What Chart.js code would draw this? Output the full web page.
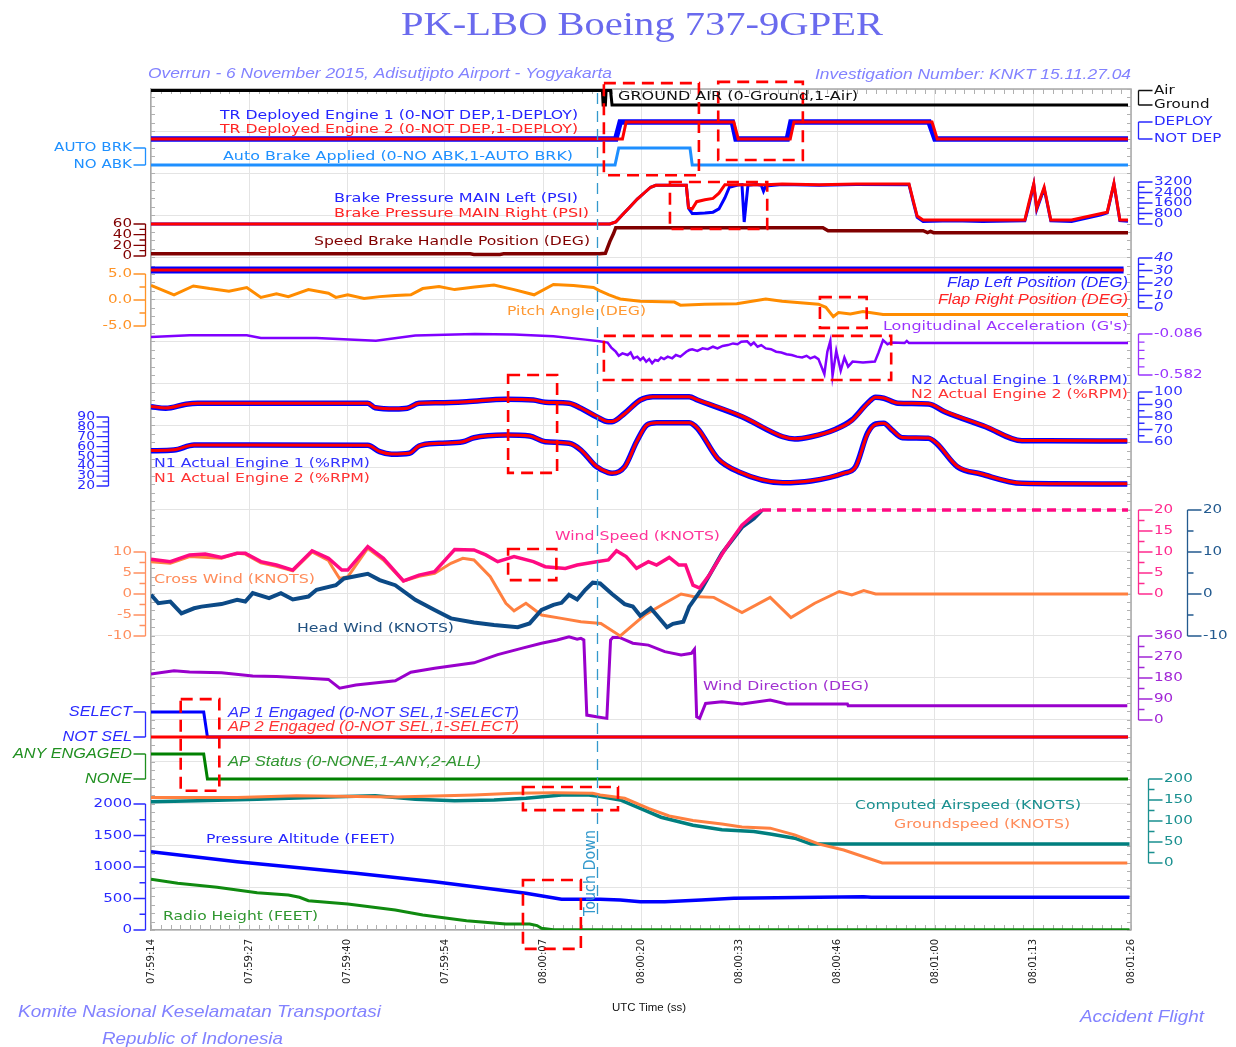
<!DOCTYPE html>
<html>
<head>
<meta charset="utf-8">
<title>PK-LBO Boeing 737-9GPER</title>
<script src="https://cdn.jsdelivr.net/npm/chart.js@4.4.1/dist/chart.umd.min.js"></script>
<style>
  html, body { margin: 0; padding: 0; background: #fff; }
  #box { width: 1236px; height: 1047px; }
</style>
</head>
<body>
<div id="box"><canvas id="fdr"></canvas></div>
<script>
// time is seconds after 07:59:14 UTC
const timeLabels = ['07:59:14', '07:59:27', '07:59:40', '07:59:54', '08:00:07', '08:00:20',
  '08:00:33', '08:00:46', '08:01:00', '08:01:13', '08:01:26'];
const touchDownT = 60.1;

const groundAirT = [0, 60.8, 60.9, 61.2, 61.3, 61.9, 62.1, 131.6];
const groundAir = [1, 1, 0, 0, 1, 1, 0, 0];

const trEng1T = [0, 62.6, 63.2, 78.3, 78.8, 85.7, 86.2, 104.8, 105.6, 131.6];
const trEng1 = [0, 0, 1, 1, 0, 0, 1, 1, 0, 0];
const trEng2T = [0, 63.5, 64.0, 78.5, 79.1, 86.1, 86.6, 105.2, 105.9, 131.6];
const trEng2 = [0, 0, 1, 1, 0, 0, 1, 1, 0, 0];

const autoBrkT = [0, 62.5, 63.0, 72.6, 72.9, 131.6];
const autoBrk = [0, 0, 1, 1, 0, 0];

const brakeT = [0, 61.8, 62.6, 63.5, 64.5, 65.5, 66.5, 67.3, 68.0, 72.1, 72.4, 72.9, 73.5, 74.6, 75.7, 76.5,
  77.3, 77.9, 78.9, 79.6, 79.9, 80.4, 81.5, 82.2, 82.5, 82.8, 85.0, 90.0, 95.0, 102.1, 102.7, 103.2, 104.0,
  108.0, 112.0, 117.7, 118.2, 118.9, 119.3, 120.3, 121.2, 124.0, 128.0, 128.8, 129.7, 130.5, 131.6];
const brakeLeft = [0, 0, 150, 700, 1300, 1900, 2400, 2800, 2950, 2950, 1200, 800, 800, 830, 900, 1150,
  2000, 2800, 2950, 3000, 150, 2950, 3000, 2950, 2500, 2900, 3000, 2950, 3000, 3000, 1600, 500, 200,
  250, 200, 250, 1300, 3000, 1100, 2700, 250, 200, 700, 850, 3050, 250, 200];
const brakeRight = [0, 0, 150, 700, 1300, 1900, 2400, 2800, 2950, 2950, 1250, 1150, 1700, 1850, 1950, 2350,
  3000, 3000, 3000, 3000, 3000, 3000, 3000, 3000, 3000, 3000, 3050, 3000, 3050, 3050, 1700, 600, 300,
  300, 300, 300, 1500, 3050, 1200, 2800, 300, 300, 800, 900, 3100, 300, 300];

const speedBrkT = [0, 43, 43.5, 47, 47.5, 60.4, 61.2, 61.8, 62.3, 62.6, 90.5, 91.2, 104.0, 104.6, 105.0, 105.4, 131.6];
const speedBrk = [4, 4, 3, 3, 4, 4, 5, 27, 42, 53, 53, 47.5, 47.5, 44, 46, 43.7, 43.7];

const flapT = [0, 131.0];
const flapLeft = [30.5, 30.5];
const flapRight = [30.5, 30.5];

const pitchT = [0, 3.1, 5.7, 7.9, 10.5, 12.9, 14.8, 16.9, 18.5, 21.2, 23.9, 24.9, 26.5, 28.7, 30.8, 32.9,
  35.0, 36.6, 38.8, 40.9, 43.6, 46.2, 48.9, 51.6, 54.2, 56.9, 59.6, 60.4, 61.7, 62.6, 63.2, 65.9, 70.5,
  71.3, 74.6, 78.9, 82.8, 85.0, 89.9, 90.9, 91.9, 92.6, 94.2, 95.9, 98.6, 131.6];
const pitch = [2.8, 1.0, 2.7, 2.2, 1.7, 2.4, 0.5, 1.2, 0.65, 2.0, 1.3, 0.5, 1.0, 0.3, 0.65, 0.85,
  1.0, 2.2, 2.6, 2.0, 2.5, 2.9, 2.0, 1.0, 3.0, 2.8, 2.4, 1.8, 1.0, 0.5, 0.2, -0.25, -0.4,
  -1.0, -0.8, -0.7, 0.2, -0.25, -0.8, -1.4, -3.2, -2.4, -2.7, -2.2, -2.8, -2.8];

const longAccT = [0, 5.2, 12.9, 14.8, 22.3, 30.3, 35.6, 43.6, 48.9, 54.2, 58.5, 60.4, 61.5, 62.0, 62.6,
  63.0, 63.5, 64.2, 64.6, 65.0, 65.5, 65.9, 66.3, 66.7, 67.1, 67.5, 67.9, 68.3, 68.7, 69.1, 69.6, 70.2,
  70.7, 71.3, 72.1, 72.5, 72.9, 73.6, 74.3, 75.0, 75.7, 76.3, 77.0, 77.7, 78.4, 79.0, 79.5, 80.3, 80.8,
  81.2, 81.7, 82.2, 82.8, 83.5, 84.2, 84.9, 85.6, 86.3, 87.0, 87.7, 88.3, 88.8, 89.4, 89.9, 90.7, 91.1,
  91.5, 91.8, 92.3, 92.9, 93.4, 93.9, 94.5, 95.9, 97.5, 98.0, 98.6, 99.2, 99.7, 101.5, 101.8, 102.1, 131.6];
const longAcc = [-0.121, -0.100, -0.100, -0.133, -0.133, -0.167, -0.105, -0.085, -0.092, -0.113, -0.154,
  -0.175, -0.19, -0.25, -0.30, -0.35, -0.32, -0.34, -0.31, -0.38, -0.36, -0.40, -0.37, -0.42, -0.39,
  -0.44, -0.40, -0.41, -0.37, -0.39, -0.36, -0.38, -0.34, -0.36, -0.30, -0.28, -0.27, -0.29, -0.26,
  -0.27, -0.24, -0.26, -0.23, -0.22, -0.20, -0.21, -0.18, -0.175, -0.22, -0.19, -0.24, -0.22, -0.26,
  -0.27, -0.30, -0.31, -0.33, -0.34, -0.36, -0.37, -0.35, -0.38, -0.36, -0.39, -0.57, -0.30, -0.17,
  -0.59, -0.29, -0.53, -0.37, -0.48, -0.42, -0.43, -0.42, -0.31, -0.16, -0.21, -0.19, -0.196, -0.17,
  -0.196, -0.196];

const n2T = [0, 2.0, 4.7, 6.3, 29.2, 30.2, 32.9, 34.5, 36.1, 38.8, 42.5, 47.8, 51.5, 53.1, 56.3, 57.9,
  60.0, 61.6, 62.1, 63.8, 65.9, 67.6, 72.5, 73.6, 79.6, 85.1, 86.7, 88.9, 92.2, 94.4, 96.5, 97.6, 98.7,
  100.6, 104.7, 106.9, 112.4, 117.3, 120.6, 131.5];
const n2Eng1 = [88.2, 87.0, 90.2, 91.0, 91.0, 87.4, 86.4, 87.0, 91.0, 91.4, 92.2, 94.2, 93.6, 91.8, 91.0, 87.0,
  80.2, 76.2, 76.2, 83.0, 93.6, 96.2, 96.2, 93.6, 80.2, 64.2, 62.4, 64.2, 70.2, 77.6, 91.0, 95.8, 95.0,
  91.0, 90.4, 84.2, 72.2, 61.0, 61.0, 60.8];
const n2Eng2 = [88.4, 87.2, 90.2, 91.0, 91.0, 87.6, 86.6, 87.0, 91.0, 91.4, 92.2, 94.2, 93.6, 91.8, 91.0, 87.2,
  80.6, 76.4, 76.4, 82.6, 93.4, 96.2, 96.2, 93.8, 80.6, 64.4, 62.6, 64.2, 70.0, 77.0, 90.6, 95.8, 95.2,
  91.2, 90.6, 84.6, 72.6, 61.2, 61.2, 61.0];

const n1T = [0, 3.1, 5.8, 7.3, 29.2, 30.8, 32.4, 34.8, 36.1, 38.8, 42.0, 43.5, 47.8, 51.0, 53.1, 56.3,
  57.9, 60.0, 61.6, 62.1, 63.8, 65.4, 66.8, 68.1, 72.5, 73.6, 76.3, 79.1, 85.1, 88.9, 93.3, 94.9, 96.5,
  97.6, 98.7, 99.8, 101.2, 104.7, 105.8, 108.6, 111.8, 117.3, 131.5];
const n1Eng1 = [55.8, 56.5, 61.6, 61.6, 61.3, 54.8, 52.2, 53.2, 60.6, 63.3, 64.9, 69.0, 71.7, 70.7, 64.9, 63.3,
  56.5, 39.6, 33.5, 32.9, 39.6, 64.9, 81.9, 84.2, 84.2, 78.5, 48.1, 34.5, 23.3, 25.1, 32.9, 39.6, 73.5,
  82.9, 83.6, 76.8, 69.0, 68.4, 63.3, 39.6, 32.2, 22.7, 22.0];
const n1Eng2 = [56.0, 56.7, 61.6, 61.6, 61.3, 55.0, 52.4, 53.2, 60.6, 63.3, 64.9, 69.0, 71.7, 70.7, 65.1, 63.3,
  56.7, 40.0, 33.7, 33.1, 39.2, 64.5, 81.9, 84.2, 84.2, 78.9, 48.5, 34.9, 23.5, 25.3, 32.9, 39.2, 72.5,
  82.5, 83.6, 77.2, 69.2, 68.6, 63.7, 40.0, 32.4, 22.9, 22.2];

const windSpeedT = [0, 2.6, 5.2, 7.3, 9.5, 11.6, 12.7, 14.8, 16.9, 19.1, 21.7, 23.9, 25.7, 26.5, 29.2, 31.3,
  34.0, 36.1, 38.2, 40.9, 43.5, 45.1, 46.7, 48.9, 51.5, 53.1, 55.8, 57.4, 60.0, 61.6, 62.7, 64.0, 65.4,
  67.0, 68.1, 69.8, 71.1, 72.0, 73.0, 73.9, 75.2, 77.4, 79.6, 81.2, 82.3, 131.6];
const windSpeed = [8.3, 7.7, 9.3, 9.5, 8.7, 9.7, 9.7, 7.7, 6.9, 5.7, 10.3, 8.5, 5.7, 5.7, 11.3, 8.5,
  3.1, 4.5, 5.3, 10.6, 10.5, 9.3, 7.7, 8.9, 7.7, 6.5, 6.1, 6.9, 7.7, 8.1, 10.3, 8.9, 6.1,
  7.7, 6.9, 8.7, 6.9, 6.9, 2.1, 1.4, 4.5, 10.9, 16.4, 18.8, 20, 20];

const crossWindT = [0, 2.6, 5.2, 9.5, 11.6, 12.7, 14.8, 16.9, 19.1, 21.7, 23.9, 24.4, 25.4, 26.5, 29.2, 31.3,
  34.0, 36.1, 38.2, 40.4, 42.0, 43.5, 45.7, 47.8, 48.9, 50.5, 52.6, 55.3, 57.9, 60.6, 63.2, 64.9, 66.5,
  69.2, 71.4, 73.0, 75.8, 79.6, 83.4, 86.2, 89.4, 92.7, 94.4, 96.0, 97.6, 131.6];
const crossWind = [7.7, 7.3, 8.9, 8.5, 9.7, 9.5, 7.4, 6.6, 5.5, 10.0, 8.0, 6.5, 3.7, 4.1, 10.9, 8.1,
  3.1, 4.2, 4.9, 7.3, 8.5, 8.1, 4.1, -2.2, -4.0, -2.2, -5.0, -5.8, -6.6, -7.0, -10, -7.4, -5.0,
  -2.2, 0, -0.6, -0.8, -4.4, -0.8, -5.6, -2.2, 0.6, -0.2, 0.8, 0, 0];

const headWindT = [0, 1.0, 2.6, 4.1, 5.8, 6.8, 9.5, 11.6, 12.7, 13.7, 15.9, 17.5, 19.1, 21.2, 22.3, 24.9,
  26.0, 29.2, 30.8, 32.9, 35.6, 38.2, 40.4, 43.5, 46.2, 49.4, 51.0, 52.6, 54.2, 55.3, 56.3, 57.4, 58.5,
  59.5, 60.5, 62.1, 63.8, 64.9, 65.9, 67.3, 68.1, 69.5, 70.3, 71.7, 72.5, 74.1, 76.9, 79.6, 81.2, 82.3];
const headWind = [-0.2, -2.2, -1.8, -4.6, -3.4, -3.0, -2.4, -1.4, -1.8, 0.2, -1.0, 0.2, -1.3, -0.6, 1.0, 2.1,
  3.7, 4.8, 3.3, 2.1, -1.4, -3.8, -5.8, -6.8, -7.4, -7.9, -7.0, -3.8, -2.6, -2.1, -0.2, -1.3, 1.0,
  2.7, 2.5, 0, -2.4, -3.0, -5.2, -3.4, -5.0, -7.9, -7.1, -6.6, -3.0, 1.0, 9.7, 15.9, 18.0, 20];

const windDirT = [0, 3.1, 5.2, 9.5, 13.7, 16.9, 21.2, 23.9, 25.4, 27.6, 32.9, 35.0, 38.2, 43.5, 46.7, 49.9,
  52.6, 54.7, 56.3, 57.4, 57.9, 58.3, 58.7, 60.0, 61.4, 61.9, 62.2, 63.1, 64.9, 67.0, 69.2, 71.4, 72.8,
  73.2, 73.5, 73.9, 74.7, 76.9, 79.6, 83.4, 85.6, 93.8, 93.9, 131.5];
const windDir = [197, 211, 206, 203, 189, 186, 179, 174, 136, 150, 168, 205, 222, 245, 280, 307,
  329, 343, 357, 346, 350, 343, 21, 14, 7, 343, 354, 354, 329, 321, 293, 279, 286,
  303, 14, 7, 71, 78, 69, 86, 69, 69, 61, 61];

const apT = [0, 7.1, 7.6, 131.6];
const ap1 = [1, 1, 0, 0];
const ap2 = [0, 0, 0, 0];
const apStatus = [1, 1, 0, 0];

const casT = [0, 6.3, 14.3, 24.9, 30.2, 35.6, 40.9, 46.2, 50.5, 55.3, 59.0, 60.5, 63.2, 65.9, 68.7, 73.0,
  76.9, 81.2, 83.4, 86.7, 88.9, 131.8];
const cas = [146, 148, 152, 158, 160, 152, 148, 150, 154, 162, 162, 158, 150, 130, 109, 90,
  79, 75, 69, 59, 45, 45];
const gsT = [0, 11.6, 19.6, 32.9, 43.5, 48.9, 54.2, 59.5, 60.5, 63.8, 67.0, 69.8, 73.0, 76.9, 79.6, 83.4,
  86.7, 90.0, 93.3, 98.5, 131.5];
const gs = [156, 156, 160, 157, 162, 166, 167, 166, 162, 154, 130, 112, 101, 93, 86, 83,
  67, 45, 31, 0, 0];

const altT = [0, 11.6, 27.6, 38.2, 50.5, 55.3, 60.5, 63.2, 65.9, 69.2, 74.1, 78.5, 90.0, 96.0, 97.0, 131.8];
const pressAlt = [1243, 1084, 900, 767, 582, 487, 487, 476, 450, 450, 476, 503, 519, 529, 519, 519];
const radioT = [0, 3.6, 8.9, 14.3, 18.5, 20.0, 21.2, 26.5, 32.9, 36.6, 42.5, 47.8, 51.0, 52.0, 52.6, 54.2, 131.8];
const radioHt = [805, 741, 678, 592, 556, 520, 465, 413, 317, 238, 148, 95, 95, 70, 27, 5, 5];

// highlight boxes: [t start, t end, grid row top, grid row bottom]
const redBoxes = [
  [61.0, 73.8, 20.14, 17.95], [76.4, 87.8, 20.17, 18.31], [69.9, 83.0, 17.79, 16.67],
  [90.1, 96.4, 15.05, 14.32], [61.0, 99.7, 14.13, 13.08], [48.1, 54.7, 13.20, 10.87],
  [48.1, 54.6, 9.06, 8.32], [4.0, 9.2, 5.49, 3.31], [50.1, 62.9, 3.40, 2.85], [50.1, 57.9, 1.19, -0.45]
];

// bracket axes drawn beside the plot
const brackets = [
  { axis: 'yGA', side: 1, x: 1138, ticks: [1, 0], labels: ['Air', 'Ground'], color: '#111' },
  { axis: 'yTR', side: 1, x: 1138, ticks: [1, 0], labels: ['DEPLOY', 'NOT DEP'], color: '#2a2aff' },
  { axis: 'yBrake', side: 1, x: 1138, ticks: [3200, 2400, 1600, 800, 0], minor: [400, 1200, 2000, 2800], color: '#2a2aff' },
  { axis: 'yFlap', side: 1, x: 1138, ticks: [40, 30, 20, 10, 0], minor: [35, 25, 15, 5], color: '#2a2aff', italic: true },
  { axis: 'yLong', side: 1, x: 1138, ticks: [-0.086, -0.582], labels: ['-0.086', '-0.582'], minor: [-0.185, -0.284, -0.384, -0.483], color: '#9933ff' },
  { axis: 'yN2', side: 1, x: 1138, ticks: [100, 90, 80, 70, 60], minor: [95, 85, 75, 65], color: '#3333ff' },
  { axis: 'yWind', side: 1, x: 1138, ticks: [20, 15, 10, 5, 0], minor: [17.5, 12.5, 7.5, 2.5], color: '#ff2b8f' },
  { axis: 'yWind', side: 1, x: 1187, ticks: [20, 10, 0, -10], minor: [15, 5, -5], color: '#235a8f' },
  { axis: 'yDir', side: 1, x: 1138, ticks: [360, 270, 180, 90, 0], minor: [315, 225, 135, 45], color: '#a126d6' },
  { axis: 'yCas', side: 1, x: 1148, ticks: [200, 150, 100, 50, 0], minor: [175, 125, 75, 25], color: '#1a9090' },
  { axis: 'yAB', side: -1, x: 145, ticks: [1, 0], labels: ['AUTO BRK', 'NO ABK'], color: '#1e90ff' },
  { axis: 'ySB', side: -1, x: 145, ticks: [60, 40, 20, 0], minor: [50, 30, 10], color: '#800000' },
  { axis: 'yPitch', side: -1, x: 145, ticks: [5, 0, -5], labels: ['5.0', '0.0', '-5.0'], minor: [2.5, -2.5], color: '#ff9326' },
  { axis: 'yN1', side: -1, x: 108, ticks: [90, 80, 70, 60, 50, 40, 30, 20], minor: [85, 75, 65, 55, 45, 35, 25], color: '#2a2aff', small: true },
  { axis: 'yWind', side: -1, x: 145, ticks: [10, 5, 0, -5, -10], minor: [7.5, 2.5, -2.5, -7.5], color: '#ff9060' },
  { axis: 'yAP', side: -1, x: 145, ticks: [1, 0], labels: ['SELECT', 'NOT SEL'], color: '#2a2aff', italic: true },
  { axis: 'yAPS', side: -1, x: 145, ticks: [1, 0], labels: ['ANY ENGAGED', 'NONE'], color: '#1f8f1f', italic: true },
  { axis: 'yAlt', side: -1, x: 145, ticks: [2000, 1500, 1000, 500, 0], minor: [1750, 1250, 750, 250], color: '#2a2aff' }
];

const FONTS = {
  s: '13px "DejaVu Sans"',
  i: 'italic 15px "Liberation Sans"',
  sub: 'italic 15px "Liberation Sans"',
  foot: 'italic 17px "Liberation Sans"',
  title: '33px "Liberation Serif"',
  small: '10px "Liberation Sans"'
};

// [text, left, right, centre y, colour, font]
const captions = [
  ['PK-LBO Boeing 737-9GPER', 401, 883, 26, '#6a6aee', 'title'],
  ['Overrun - 6 November 2015, Adisutjipto Airport - Yogyakarta', 148, 612, 74, '#8282ff', 'sub'],
  ['Investigation Number: KNKT 15.11.27.04', 815, 1131, 75, '#8282ff', 'sub'],
  ['GROUND AIR (0-Ground,1-Air)', 618, 858, 97, '#111', 's'],
  ['TR Deployed Engine 1 (0-NOT DEP,1-DEPLOY)', 220, 578, 116, '#2424ff', 's'],
  ['TR Deployed Engine 2 (0-NOT DEP,1-DEPLOY)', 220, 578, 130, '#ff2424', 's'],
  ['Auto Brake Applied (0-NO ABK,1-AUTO BRK)', 223, 573, 157, '#1e90ff', 's'],
  ['Brake Pressure MAIN Left (PSI)', 334, 578, 199, '#2424ff', 's'],
  ['Brake Pressure MAIN Right (PSI)', 334, 589, 214, '#ff2424', 's'],
  ['Speed Brake Handle Position (DEG)', 314, 590, 242, '#800000', 's'],
  ['Flap Left Position (DEG)', 947, 1128, 283, '#2424ff', 'i'],
  ['Flap Right Position (DEG)', 938, 1128, 300, '#ff2424', 'i'],
  ['Pitch Angle (DEG)', 507, 646, 312, '#ff9933', 's'],
  ["Longitudinal Acceleration (G's)", 883, 1128, 327, '#9933ff', 's'],
  ['N2 Actual Engine 1 (%RPM)', 911, 1128, 381, '#3333ff', 's'],
  ['N2 Actual Engine 2 (%RPM)', 911, 1128, 395, '#ff3333', 's'],
  ['N1 Actual Engine 1 (%RPM)', 154, 370, 464, '#3333ff', 's'],
  ['N1 Actual Engine 2 (%RPM)', 154, 370, 479, '#ff3333', 's'],
  ['Wind Speed (KNOTS)', 555, 720, 537, '#ff3399', 's'],
  ['Cross Wind (KNOTS)', 154, 315, 580, '#ff8c5a', 's'],
  ['Head Wind (KNOTS)', 297, 454, 629, '#1f5080', 's'],
  ['Wind Direction (DEG)', 703, 869, 687, '#a030d0', 's'],
  ['AP 1 Engaged (0-NOT SEL,1-SELECT)', 228, 519, 713, '#3333ff', 'i'],
  ['AP 2 Engaged (0-NOT SEL,1-SELECT)', 228, 519, 727, '#ff3333', 'i'],
  ['AP Status (0-NONE,1-ANY,2-ALL)', 228, 481, 762, '#2f962f', 'i'],
  ['Computed Airspeed (KNOTS)', 855, 1081, 806, '#1a9090', 's'],
  ['Groundspeed (KNOTS)', 894, 1070, 825, '#ff8c5a', 's'],
  ['Pressure Altitude (FEET)', 206, 395, 840, '#2424ff', 's'],
  ['Radio Height (FEET)', 163, 318, 917, '#2f962f', 's'],
  ['UTC Time (ss)', 612, 686, 1008, '#111', 'small'],
  ['Komite Nasional Keselamatan Transportasi', 18, 381, 1012, '#8282ff', 'foot'],
  ['Republic of Indonesia', 102, 283, 1039, '#8282ff', 'foot'],
  ['Accident Flight', 1080, 1204, 1017, '#8282ff', 'foot']
];

const TOP = 89, BOTTOM = 930, SPAN = BOTTOM - TOP;

// an invisible axis whose value v1 sits at pixel p1 and v2 at pixel p2
function band(v1, p1, v2, p2) {
  const k = (p1 - p2) / (v2 - v1);
  const min = v1 - (BOTTOM - p1) / k;
  return { type: 'linear', display: false, min: min, max: min + SPAN / k };
}

function series(t, v, axis, color, width, extra) {
  return Object.assign({
    data: t.map((x, i) => ({ x: x, y: v[i] })),
    yAxisID: axis,
    borderColor: color,
    borderWidth: width,
    pointRadius: 0,
    fill: false,
    tension: 0
  }, extra || {});
}

function fitText(ctx, s, x0, x1, y, color, font) {
  ctx.save();
  ctx.font = font;
  ctx.fillStyle = color;
  ctx.textAlign = 'left';
  ctx.textBaseline = 'middle';
  const w = ctx.measureText(s).width;
  ctx.translate(x0, y);
  ctx.scale((x1 - x0) / w, 1);
  ctx.fillText(s, 0, 0);
  ctx.restore();
}

function stretchText(ctx, s, x, y, color, font, align) {
  ctx.save();
  ctx.font = font;
  ctx.fillStyle = color;
  ctx.textAlign = align;
  ctx.textBaseline = 'middle';
  ctx.translate(x, y);
  ctx.scale(1.16, 1);
  ctx.fillText(s, 0, 0);
  ctx.restore();
}

const fdrOverlay = {
  id: 'fdrOverlay',
  beforeDatasetsDraw(chart) {
    const { ctx, chartArea: a, scales } = chart;
    ctx.save();
    ctx.strokeStyle = '#a8a8a8';
    ctx.lineWidth = 1.5;
    ctx.beginPath();
    ctx.moveTo(a.left, a.top);
    ctx.lineTo(a.right, a.top);
    ctx.lineTo(a.right, a.bottom);
    ctx.stroke();
    ctx.strokeStyle = '#b0b0b0';
    ctx.lineWidth = 1;
    ctx.beginPath();
    for (let r = 0; r <= 100; r++) {
      const y = Math.round(scales.yGrid.getPixelForValue(r / 5)) + 0.5;
      ctx.moveTo(a.left, y); ctx.lineTo(a.left + 4, y);
      ctx.moveTo(a.right, y); ctx.lineTo(a.right - 4, y);
    }
    for (let k = 0; k <= 100; k++) {
      const px = Math.round(scales.x.getPixelForValue(k * 1.32)) + 0.5;
      ctx.moveTo(px, a.bottom); ctx.lineTo(px, a.bottom - 5);
      ctx.moveTo(px, a.top); ctx.lineTo(px, a.top + 5);
    }
    ctx.stroke();
    ctx.restore();
  },
  afterDatasetsDraw(chart) {
    const { ctx, chartArea: a, scales } = chart;
    const xs = scales.x, g = scales.yGrid;
    ctx.save();

    // touch down marker
    const tx = Math.round(xs.getPixelForValue(touchDownT)) + 0.5;
    ctx.strokeStyle = '#3399cc';
    ctx.lineWidth = 1.3;
    ctx.setLineDash([11, 7]);
    ctx.beginPath();
    ctx.moveTo(tx, a.top + 4);
    ctx.lineTo(tx, a.bottom - 14);
    ctx.stroke();
    ctx.save();
    ctx.translate(tx - 7, 873);
    ctx.rotate(-Math.PI / 2);
    fitText(ctx, 'Touch Down', -43, 43, 0, '#3399cc', '16px "DejaVu Sans"');
    ctx.restore();

    // red highlight boxes
    ctx.strokeStyle = '#ff0000';
    ctx.lineWidth = 2.6;
    ctx.setLineDash([12, 7]);
    redBoxes.forEach(b => {
      const x0 = xs.getPixelForValue(b[0]), x1 = xs.getPixelForValue(b[1]);
      const y0 = g.getPixelForValue(b[2]), y1 = g.getPixelForValue(b[3]);
      ctx.strokeRect(x0, y0, x1 - x0, y1 - y0);
    });
    ctx.setLineDash([]);

    // bracket axes
    brackets.forEach(b => {
      const s = scales[b.axis];
      const x = b.x + 0.5;
      const len = b.side > 0 ? 14 : 12;
      const ys = b.ticks.map(v => s.getPixelForValue(v));
      ctx.strokeStyle = b.color;
      ctx.lineWidth = 1.3;
      ctx.beginPath();
      ctx.moveTo(x, ys[0]);
      ctx.lineTo(x, ys[ys.length - 1]);
      ys.forEach(y => { ctx.moveTo(x, y); ctx.lineTo(x + b.side * len, y); });
      (b.minor || []).forEach(v => {
        const y = s.getPixelForValue(v);
        ctx.moveTo(x, y); ctx.lineTo(x + b.side * 6, y);
      });
      ctx.stroke();
      const font = b.italic ? (b.labels ? 'italic 14px "Liberation Sans"' : 'italic 13px "DejaVu Sans"')
        : (b.small ? '12px "DejaVu Sans"' : '13px "DejaVu Sans"');
      ys.forEach((y, i) => {
        const label = b.labels ? b.labels[i] : String(b.ticks[i]);
        stretchText(ctx, label, x + b.side * (len + 1.5), y, b.color, font, b.side > 0 ? 'left' : 'right');
      });
    });

    captions.forEach(c => fitText(ctx, c[0], c[1], c[2], c[3], c[4], FONTS[c[5]]));
    ctx.restore();
  }
};

Chart.defaults.font.family = '"DejaVu Sans"';

const overRange = ctx => (ctx.p0.parsed.y >= 20 && ctx.p1.parsed.y >= 20) ? [9, 6] : undefined;

new Chart(document.getElementById('fdr'), {
  type: 'line',
  data: {
    datasets: [
      series(trEng2T, trEng2, 'yTR', '#ff0000', 3),
      series(trEng1T, trEng1, 'yTR', '#0000ff', 5.5),
      series(groundAirT, groundAir, 'yGA', '#000000', 3),
      series(autoBrkT, autoBrk, 'yAB', '#1e8fff', 3),
      series(brakeT, brakeRight, 'yBrake', '#ff0000', 3),
      series(brakeT, brakeLeft, 'yBrake', '#0000ff', 3),
      series(speedBrkT, speedBrk, 'ySB', '#800000', 3.5),
      series(flapT, flapRight, 'yFlap', '#ff0000', 3),
      series(flapT, flapLeft, 'yFlap', '#0000ff', 7),
      series(pitchT, pitch, 'yPitch', '#ff8c00', 3),
      series(longAccT, longAcc, 'yLong', '#8000ff', 2.5),
      series(n2T, n2Eng2, 'yN2', '#ff0000', 3, { cubicInterpolationMode: 'monotone' }),
      series(n2T, n2Eng1, 'yN2', '#0000ff', 5.5, { cubicInterpolationMode: 'monotone' }),
      series(n1T, n1Eng2, 'yN1', '#ff0000', 3, { cubicInterpolationMode: 'monotone' }),
      series(n1T, n1Eng1, 'yN1', '#0000ff', 5.5, { cubicInterpolationMode: 'monotone' }),
      series(windSpeedT, windSpeed, 'yWind', '#ff0a82', 3.5, { segment: { borderDash: overRange } }),
      series(headWindT, headWind, 'yWind', '#0c4a86', 4),
      series(crossWindT, crossWind, 'yWind', '#ff8040', 3),
      series(windDirT, windDir, 'yDir', '#9900cc', 3),
      series(apT, ap2, 'yAP', '#ff0000', 3),
      series(apT, ap1, 'yAP', '#0000ff', 3),
      series(apT, apStatus, 'yAPS', '#008000', 3),
      series(gsT, gs, 'yCas', '#ff8040', 3),
      series(casT, cas, 'yCas', '#007f7f', 3.5),
      series(altT, pressAlt, 'yAlt', '#0000ff', 3.5),
      series(radioT, radioHt, 'yAlt', '#108a10', 3)
    ]
  },
  options: {
    responsive: true,
    maintainAspectRatio: false,
    animation: false,
    events: [],
    layout: { padding: { left: 151, right: 105, top: 89, bottom: 57 } },
    plugins: { legend: { display: false }, tooltip: { enabled: false }, title: { display: false } },
    scales: {
      x: {
        type: 'linear',
        min: 0,
        max: 132,
        afterBuildTicks: s => { s.ticks = timeLabels.map((l, i) => ({ value: i * 13.2 })); },
        afterFit: s => { s.height = 60; },
        ticks: {
          autoSkip: false,
          minRotation: 90,
          maxRotation: 90,
          padding: 9,
          color: '#222',
          font: { size: 10, family: '"DejaVu Sans"' },
          callback: (v, i) => timeLabels[i]
        },
        grid: { color: '#e4e4e4', drawTicks: false },
        border: { color: '#a8a8a8', width: 1.5 }
      },
      yGrid: {
        type: 'linear',
        position: 'left',
        min: 0,
        max: 20,
        afterFit: s => { s.width = 0; },
        ticks: { display: false, stepSize: 1 },
        grid: { color: '#e4e4e4', drawTicks: false },
        border: { color: '#a8a8a8', width: 1.5 }
      },
      yGA: band(0, 105, 1, 90.5),
      yTR: band(0, 139, 1, 122),
      yAB: band(0, 165, 1, 148),
      yBrake: band(0, 224, 3200, 182),
      ySB: band(0, 256, 60, 224),
      yFlap: band(0, 308, 40, 258),
      yPitch: band(0, 300, 5, 274),
      yLong: band(-0.582, 375, -0.086, 334),
      yN2: band(60, 442, 100, 392),
      yN1: band(20, 486, 90, 417),
      yWind: band(0, 594, 20, 510),
      yDir: band(0, 720, 360, 636),
      yAP: band(0, 737, 1, 712),
      yAPS: band(0, 779, 1, 754),
      yCas: band(0, 863, 200, 779),
      yAlt: band(0, 930, 2000, 804)
    }
  },
  plugins: [fdrOverlay]
});
</script>
</body>
</html>
